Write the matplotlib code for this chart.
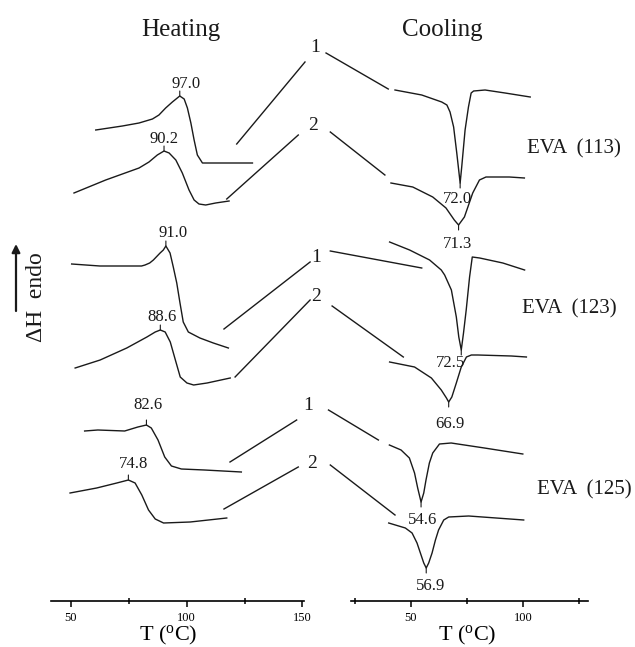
import matplotlib.pyplot as plt

plt.rcParams['font.family'] = ['Liberation Serif', 'DejaVu Serif']
plt.rcParams['mathtext.fontset'] = 'custom'
plt.rcParams['mathtext.rm'] = 'Liberation Serif'

# DSC traces: T in degC, heat flow in arbitrary units (endo up, curves stacked)
# heating, EVA (113)
h113_1_T = [60.7, 72.2, 79.4, 85.2, 88.0, 90.9, 93.8, 97.0, 98.9, 100.3, 101.8, 103.2, 104.6, 106.8, 111.1, 128.4]
h113_1_y = [471, 475, 478, 482, 486, 493, 499, 505, 502, 493, 478, 461, 446, 438, 438, 438]
h113_2_T = [51.3, 65.0, 79.4, 83.7, 87.3, 90.2, 92.4, 95.3, 98.1, 101.0, 103.2, 105.3, 108.2, 112.5, 118.3]
h113_2_y = [408, 421, 433, 439, 446, 450, 448, 441, 428, 411, 401, 397, 396, 398, 400]
# heating, EVA (123)
h123_1_T = [50.3, 62.5, 80.5, 82.0, 84.0, 85.6, 88.5, 89.9, 91.0, 92.8, 94.2, 95.7, 97.1, 98.5, 100.7, 105.7, 111.5, 118.0]
h123_1_y = [337, 335, 335, 336, 338, 341, 348, 351, 355, 348, 334, 318, 298, 279, 269, 263, 258, 253]
h123_2_T = [51.8, 62.6, 74.1, 82.8, 86.4, 88.6, 90.7, 92.9, 95.1, 97.2, 100.1, 103.0, 108.8, 118.8]
h123_2_y = [233, 241, 253, 264, 269, 271, 269, 259, 241, 224, 218, 216, 218, 223]
# heating, EVA (125)
h125_1_T = [55.9, 61.6, 73.2, 78.9, 82.6, 84.7, 87.6, 90.5, 93.4, 97.7, 107.7, 123.6]
h125_1_y = [170, 171, 170, 174, 176, 173, 161, 144, 135, 132, 131, 129]
h125_2_T = [49.6, 61.1, 69.8, 74.8, 77.7, 80.6, 83.5, 86.4, 90.0, 101.5, 117.3]
h125_2_y = [108, 113, 118, 121, 118, 106, 91, 82, 78, 79, 83]

# cooling, EVA (113)
c113_1_T = [43.0, 54.9, 63.8, 66.1, 67.5, 69.1, 70.5, 72.0, 72.7, 74.2, 75.7, 76.9, 78.0, 83.1, 92.0, 103.2]
c113_1_y = [511, 506, 499, 496, 489, 474, 448, 418, 434, 471, 494, 508, 510, 511, 508, 504]
c113_2_T = [41.2, 50.9, 59.8, 65.7, 69.4, 71.3, 73.9, 77.6, 80.6, 83.5, 93.9, 100.6]
c113_2_y = [418, 414, 404, 393, 381, 376, 384, 408, 421, 424, 424, 423]
# cooling, EVA (123)
c123_1_T = [40.6, 49.5, 58.4, 63.6, 65.1, 68.1, 70.3, 71.4, 72.5, 73.5, 74.7, 76.2, 77.4, 80.7, 91.0, 100.7]
c123_1_y = [359, 351, 341, 331, 326, 311, 284, 264, 251, 268, 291, 324, 344, 343, 338, 331]
c123_2_T = [40.6, 51.7, 59.2, 63.6, 65.9, 66.9, 68.3, 70.3, 72.5, 74.8, 77.0, 79.9, 94.8, 101.5]
c123_2_y = [239, 234, 223, 211, 203, 199, 204, 218, 234, 244, 246, 246, 245, 244]
# cooling, EVA (125)
c125_1_T = [40.5, 45.7, 49.4, 51.7, 53.1, 54.6, 55.8, 56.8, 58.3, 59.8, 62.8, 68.0, 82.8, 99.9]
c125_1_y = [156, 151, 143, 128, 113, 99, 108, 121, 138, 148, 157, 158, 153, 147]
c125_2_T = [40.2, 47.6, 50.6, 52.8, 54.3, 55.8, 56.9, 58.0, 59.5, 61.0, 62.4, 64.7, 66.9, 75.8, 100.3]
c125_2_y = [78, 73, 68, 58, 48, 38, 33, 38, 48, 61, 71, 81, 84, 85, 81]

# peak temperatures written on the curves
heat_peaks = [97.0, 90.2, 91.0, 88.6, 82.6, 74.8]
cool_peaks = [72.0, 71.3, 72.5, 66.9, 54.6, 56.9]

samples = ['EVA  (113)', 'EVA  (123)', 'EVA  (125)']

# guide lines from the run numbers to the traces (left part in heating coords, right part in cooling coords)
guide_left = [((121.6, 151.1), (457, 539)), ((117.3, 148.2), (402, 466)),
              ((116.1, 153.3), (272, 339)), ((120.9, 153.3), (224, 301)),
              ((118.7, 147.5), (139, 181)), ((116.1, 148.2), (92, 134))]
guide_right = [((12.3, 40.0), (548, 512)), ((14.2, 38.5), (469, 426)),
               ((14.2, 54.9), (350, 333)), ((15.0, 46.7), (295, 244)),
               ((13.4, 35.6), (191, 161)), ((14.2, 43.0), (136, 86))]
run_labels = ['1', '2', '1', '2', '1', '2']

W, H = 635, 647
fig = plt.figure(figsize=(W / 100, H / 100), dpi=100)


def at(px, py):
    return px / W, 1 - py / H


ax_h = fig.add_axes([51.3 / W, 46 / H, 252.3 / W, 601 / H])
ax_c = fig.add_axes([351.2 / W, 46 / H, 236.3 / W, 601 / H])
ax_h.set_xlim(41.5, 150.5)
ax_c.set_xlim(23.5, 128.7)

for ax in (ax_h, ax_c):
    ax.set_ylim(0, 601)
    ax.set_facecolor('none')
    for s in ('top', 'left', 'right'):
        ax.spines[s].set_visible(False)
    ax.spines['bottom'].set_linewidth(1.2)
    ax.set_yticks([])
    ax.tick_params(axis='x', which='major', direction='out', length=4, width=1.1,
                   labelsize=9, pad=4)
    ax.tick_params(axis='x', which='minor', direction='inout', length=5, width=1.1)
    ax.set_xlabel('T ($\\mathregular{^o}$C)', fontsize=16)

ax_h.set_xticks([50, 100, 150])
ax_h.set_xticks([75, 125], minor=True)
ax_c.set_xticks([50, 100])
ax_c.set_xticks([25, 75, 125], minor=True)
ax_h.xaxis.set_label_coords((168 - 51.3) / 252.3, -0.038)
ax_c.xaxis.set_label_coords((466.7 - 351.2) / 236.3, -0.038)

heat = [(h113_1_T, h113_1_y), (h113_2_T, h113_2_y), (h123_1_T, h123_1_y),
        (h123_2_T, h123_2_y), (h125_1_T, h125_1_y), (h125_2_T, h125_2_y)]
cool = [(c113_1_T, c113_1_y), (c113_2_T, c113_2_y), (c123_1_T, c123_1_y),
        (c123_2_T, c123_2_y), (c125_1_T, c125_1_y), (c125_2_T, c125_2_y)]

ink = '#1a1a1a'
# label offsets from the peak, in pixels
heat_off = [(6, 12), (0, 12), (7, 13), (2, 13), (2, 20), (5, 16)]
cool_off = [(-3, -16), (-1, -19), (-11, -13), (1, -22), (2, -18), (4, -18)]

for ax, curves, peaks, offs, sign in ((ax_h, heat, heat_peaks, heat_off, 1),
                                      (ax_c, cool, cool_peaks, cool_off, -1)):
    for (T, y), p, (dx, dy) in zip(curves, peaks, offs):
        ax.plot(T, y, color=ink, lw=1.0, solid_joinstyle='round')
        yp = y[T.index(p)]
        ax.annotate('', xy=(p, yp), xytext=(0, 5 * sign), textcoords='offset pixels',
                    arrowprops=dict(arrowstyle='-', color=ink, lw=0.8, shrinkA=0, shrinkB=0))
        ax.annotate(f'{p:.1f}', xy=(p, yp), xytext=(dx, dy), textcoords='offset pixels',
                    ha='center', va='center', fontsize=12, color=ink)

for (xs, ys) in guide_left:
    ax_h.plot(xs, ys, color=ink, lw=1.0, clip_on=False)
for (xs, ys) in guide_right:
    ax_c.plot(xs, ys, color=ink, lw=1.0, clip_on=False)

run_pos = [(315, 47), (313, 125), (316, 257), (316, 296), (308, 405), (312, 463)]
for lab, (px, py) in zip(run_labels, run_pos):
    fig.text(*at(px, py), lab, ha='center', va='center', fontsize=14, color=ink)

sample_pos = [(526.7, 149), (521.7, 309), (536.7, 490)]
for lab, (px, py) in zip(samples, sample_pos):
    fig.text(*at(px, py), lab, ha='left', va='center', fontsize=15, color=ink)

fig.text(*at(181, 30), 'Heating', ha='center', va='center', fontsize=18, color=ink)
fig.text(*at(442, 30), 'Cooling', ha='center', va='center', fontsize=18, color=ink)

# heat flow direction
fig.add_artist(plt.Annotation('', xy=at(16, 244), xytext=at(16, 311),
                              xycoords='figure fraction', textcoords='figure fraction',
                              arrowprops=dict(arrowstyle='-|>', color=ink, lw=1.6,
                                              mutation_scale=12, shrinkA=0, shrinkB=0)))
fig.text(*at(37, 297), '\u0394H  endo', rotation=90, ha='center', va='center',
         fontsize=17, color=ink)

fig.savefig('out.png', dpi=100)
